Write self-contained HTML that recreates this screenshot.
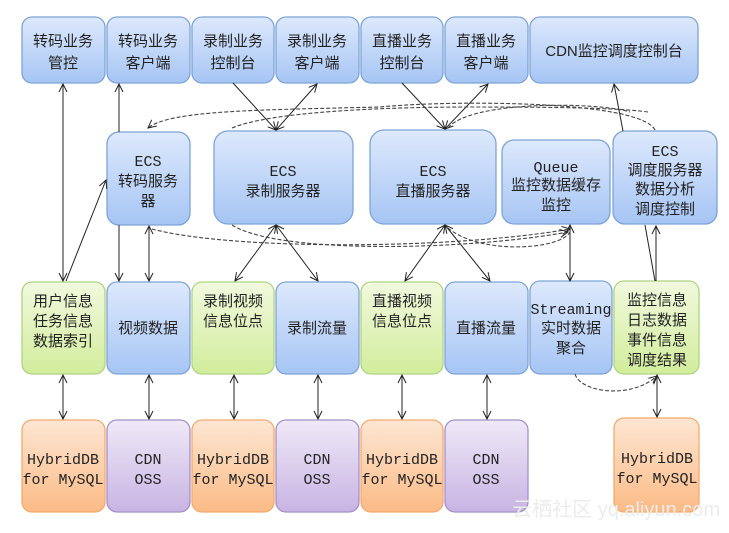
<!DOCTYPE html>
<html><head><meta charset="utf-8"><style>
html,body{margin:0;padding:0;background:#fff;}
svg{display:block;}
text{font-family:"Liberation Mono","Noto Sans CJK SC",monospace;font-size:15px;fill:#222;text-anchor:middle;}
.c{font-family:"Liberation Sans","Noto Sans CJK SC",sans-serif;font-size:16px;}
</style></head><body>
<svg width="729" height="533" viewBox="0 0 729 533" xmlns="http://www.w3.org/2000/svg">
<defs>
<linearGradient id="gb" x1="0" y1="0" x2="0" y2="1"><stop offset="0" stop-color="#dde9fc"/><stop offset="1" stop-color="#a6c5f4"/></linearGradient>
<linearGradient id="gg" x1="0" y1="0" x2="0" y2="1"><stop offset="0" stop-color="#f1f9de"/><stop offset="1" stop-color="#d2ed9c"/></linearGradient>
<linearGradient id="go" x1="0" y1="0" x2="0" y2="1"><stop offset="0" stop-color="#fde6d3"/><stop offset="1" stop-color="#fbbb86"/></linearGradient>
<linearGradient id="gp" x1="0" y1="0" x2="0" y2="1"><stop offset="0" stop-color="#efe9f7"/><stop offset="1" stop-color="#c8b4e3"/></linearGradient>
<marker id="a" markerWidth="10" markerHeight="10" refX="9" refY="5" orient="auto-start-reverse" markerUnits="userSpaceOnUse"><path d="M1,1 L9,5 L1,9" fill="none" stroke="#222" stroke-width="1"/></marker>
</defs>
<g stroke-width="1.3">
<g fill="url(#gb)" stroke="#7ea3d6">
<rect x="22" y="17" width="83" height="66" rx="10"/>
<rect x="107" y="17" width="83" height="66" rx="10"/>
<rect x="192" y="17" width="82" height="66" rx="10"/>
<rect x="276" y="17" width="83" height="66" rx="10"/>
<rect x="361" y="17" width="82" height="66" rx="10"/>
<rect x="445" y="17" width="83" height="66" rx="10"/>
<rect x="530" y="17" width="168" height="66" rx="10"/>
<rect x="107" y="132" width="83" height="93" rx="12"/>
<rect x="214" y="131" width="139" height="93" rx="14"/>
<rect x="370" y="130" width="126" height="94" rx="14"/>
<rect x="502" y="140" width="108" height="84" rx="12"/>
<rect x="613" y="131" width="104" height="93" rx="12"/>
<rect x="107" y="282" width="83" height="92" rx="10"/>
<rect x="276" y="282" width="83" height="92" rx="10"/>
<rect x="445" y="282" width="83" height="92" rx="10"/>
<rect x="530" y="281" width="82" height="93" rx="10"/>
</g>
<g fill="url(#gg)" stroke="#afd482">
<rect x="22" y="282" width="83" height="92" rx="10"/>
<rect x="192" y="282" width="82" height="92" rx="10"/>
<rect x="361" y="282" width="82" height="92" rx="10"/>
<rect x="614" y="281" width="85" height="93" rx="10"/>
</g>
<g fill="url(#go)" stroke="#f3ab6e">
<rect x="22" y="420" width="83" height="92" rx="10"/>
<rect x="192" y="420" width="82" height="92" rx="10"/>
<rect x="361" y="420" width="82" height="92" rx="10"/>
<rect x="614" y="418" width="85" height="94" rx="10"/>
</g>
<g fill="url(#gp)" stroke="#a590c8">
<rect x="107" y="420" width="83" height="92" rx="10"/>
<rect x="276" y="420" width="83" height="92" rx="10"/>
<rect x="445" y="420" width="83" height="92" rx="10"/>
</g>
</g>
<g stroke="#222" stroke-width="1" fill="none">
<line x1="63" y1="281" x2="63" y2="84" marker-end="url(#a)" marker-start="url(#a)"/>
<line x1="119" y1="132" x2="119" y2="84" marker-end="url(#a)"/>
<line x1="119" y1="225" x2="119" y2="281" marker-end="url(#a)"/>
<line x1="66" y1="281" x2="106" y2="180" marker-end="url(#a)"/>
<line x1="149" y1="281" x2="149" y2="226" marker-end="url(#a)" marker-start="url(#a)"/>
<line x1="233" y1="83" x2="276" y2="130" marker-end="url(#a)"/>
<line x1="276" y1="130" x2="317" y2="84" marker-end="url(#a)" marker-start="url(#a)"/>
<line x1="235" y1="281" x2="276" y2="225" marker-end="url(#a)" marker-start="url(#a)"/>
<line x1="318" y1="281" x2="276" y2="225" marker-end="url(#a)" marker-start="url(#a)"/>
<line x1="402" y1="83" x2="445" y2="129" marker-end="url(#a)"/>
<line x1="445" y1="129" x2="488" y2="84" marker-end="url(#a)" marker-start="url(#a)"/>
<line x1="405" y1="281" x2="445" y2="225" marker-end="url(#a)" marker-start="url(#a)"/>
<line x1="490" y1="281" x2="445" y2="225" marker-end="url(#a)" marker-start="url(#a)"/>
<line x1="570" y1="281" x2="570" y2="225" marker-end="url(#a)" marker-start="url(#a)"/>
<line x1="623" y1="131" x2="614" y2="84" marker-end="url(#a)"/>
<line x1="645" y1="225" x2="655" y2="281"/>
<line x1="656" y1="281" x2="656" y2="226" marker-end="url(#a)"/>
<line x1="63" y1="375" x2="63" y2="419" marker-end="url(#a)" marker-start="url(#a)"/>
<line x1="149" y1="375" x2="149" y2="419" marker-end="url(#a)" marker-start="url(#a)"/>
<line x1="234" y1="375" x2="234" y2="419" marker-end="url(#a)" marker-start="url(#a)"/>
<line x1="318" y1="375" x2="318" y2="419" marker-end="url(#a)" marker-start="url(#a)"/>
<line x1="402" y1="375" x2="402" y2="419" marker-end="url(#a)" marker-start="url(#a)"/>
<line x1="487" y1="375" x2="487" y2="419" marker-end="url(#a)" marker-start="url(#a)"/>
<line x1="657" y1="375" x2="657" y2="417" marker-end="url(#a)" marker-start="url(#a)"/>
</g>
<g stroke="#444" stroke-width="1.1" fill="none" stroke-dasharray="4,2">
<path d="M655,130 C640,100 450,100 380,107 C260,110 170,110 148,128" marker-end="url(#a)"/>
<path d="M232,128 C270,112 380,107 470,107 C560,107 620,108 648,112"/>
<path d="M448,128 C470,100 600,102 630,112"/>
<path d="M152,229 C230,250 450,250 570,229" marker-end="url(#a)"/>
<path d="M232,225 C280,255 470,250 568,232" marker-end="url(#a)"/>
<path d="M448,228 C480,255 560,250 570,232"/>
<path d="M575,374 C580,392 630,400 657,376" marker-end="url(#a)"/>
</g>
<g class="c">
<text x="63" y="46">转码业务</text><text x="63" y="68">管控</text>
<text x="148" y="46">转码业务</text><text x="148" y="68">客户端</text>
<text x="233" y="46">录制业务</text><text x="233" y="68">控制台</text>
<text x="317" y="46">录制业务</text><text x="317" y="68">客户端</text>
<text x="402" y="46">直播业务</text><text x="402" y="68">控制台</text>
<text x="486" y="46">直播业务</text><text x="486" y="68">客户端</text>
</g>
<text x="614" y="56" class="c" style="font-size:15px">CDN监控调度控制台</text>
<g class="c">
<text x="148" y="166">ECS</text><text x="148" y="186">转码服务</text><text x="148" y="206">器</text>
<text x="283" y="176">ECS</text><text x="283" y="196">录制服务器</text>
<text x="433" y="176">ECS</text><text x="433" y="196">直播服务器</text>
<text x="556" y="172">Queue</text><text x="556" y="190">监控数据缓存</text><text x="556" y="210">监控</text>
<text x="665" y="156">ECS</text><text x="665" y="175">调度服务器</text><text x="665" y="194">数据分析</text><text x="665" y="214">调度控制</text>
</g>
<g class="c" style="font-size:17px">
<text x="63" y="306">用户信息</text><text x="63" y="326">任务信息</text><text x="63" y="346">数据索引</text>
<text x="148" y="333">视频数据</text>
<text x="233" y="306">录制视频</text><text x="233" y="326">信息位点</text>
<text x="317" y="333">录制流量</text>
<text x="402" y="306">直播视频</text><text x="402" y="326">信息位点</text>
<text x="486" y="333">直播流量</text>
<text x="657" y="305">监控信息</text><text x="657" y="325">日志数据</text><text x="657" y="345">事件信息</text><text x="657" y="365">调度结果</text>
</g>
<text x="571" y="314">Streaming</text>
<g class="c"><text x="571" y="333">实时数据</text><text x="571" y="353">聚合</text></g>
<g>
<text x="63" y="464">HybridDB</text><text x="63" y="484">for MySQL</text>
<text x="233" y="464">HybridDB</text><text x="233" y="484">for MySQL</text>
<text x="402" y="464">HybridDB</text><text x="402" y="484">for MySQL</text>
<text x="657" y="463">HybridDB</text><text x="657" y="483">for MySQL</text>
<text x="148" y="464">CDN</text><text x="148" y="484">OSS</text>
<text x="317" y="464">CDN</text><text x="317" y="484">OSS</text>
<text x="486" y="464">CDN</text><text x="486" y="484">OSS</text>
</g>
<text x="720" y="516" style="font-family:'Liberation Sans','Noto Sans CJK SC',sans-serif;font-size:20px;fill:#ececec;text-anchor:end;">云栖社区 yq.aliyun.com</text>
</svg>
</body></html>
